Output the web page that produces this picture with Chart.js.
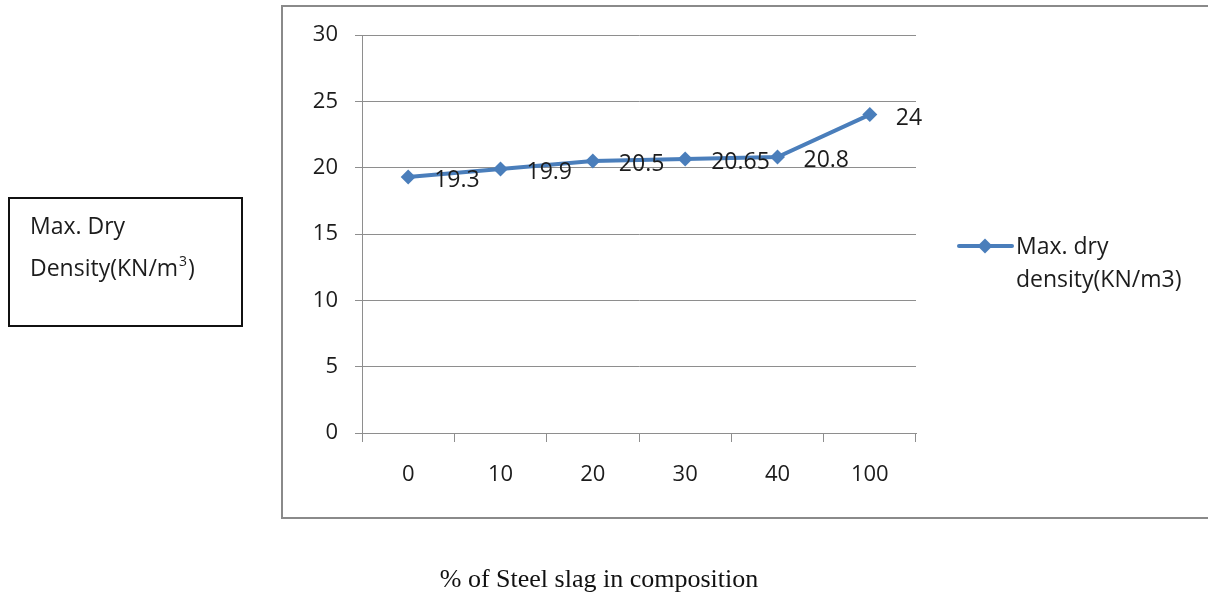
<!DOCTYPE html>
<html>
<head>
<meta charset="utf-8">
<script src="https://cdn.jsdelivr.net/npm/chart.js@4/dist/chart.umd.min.js"></script>
<style>
  html, body { margin: 0; padding: 0; background: #fff; }
  #wrap { position: relative; width: 1208px; height: 596px; }
</style>
</head>
<body>
<div id="wrap"><canvas id="c" width="1208" height="596"></canvas></div>
<script>
// Steel slag content (%) and measured maximum dry density
const slagPercent = ['0', '10', '20', '30', '40', '100'];
const maxDryDensity = [19.3, 19.9, 20.5, 20.65, 20.8, 24];
const seriesName = ['Max. dry', 'density(KN/m3)'];
const axisCaption = '% of Steel slag in composition';
const yTitleLines = ['Max. Dry', 'Density(KN/m', '3', ')'];

const BLUE = '#4a7ebb';
const GRID = '#8e8e8e';
const TEXT = '#1c1c1c';
const FONT = '"Open Sans", sans-serif';

// Frame, side title box, legend, caption and value labels
const decorations = {
  id: 'decorations',
  beforeDraw(chart) {
    const ctx = chart.ctx;
    ctx.save();
    ctx.fillStyle = '#fff';
    ctx.fillRect(0, 0, chart.width, chart.height);
    // chart frame
    ctx.strokeStyle = '#8a8a8a';
    ctx.lineWidth = 2;
    ctx.strokeRect(282, 6, 1000, 512);
    ctx.restore();
  },
  afterDatasetsDraw(chart) {
    const ctx = chart.ctx;
    ctx.save();
    // value labels right of each marker
    const meta = chart.getDatasetMeta(0);
    ctx.font = '23px ' + FONT;
    ctx.fillStyle = TEXT;
    ctx.textAlign = 'left';
    ctx.textBaseline = 'alphabetic';
    meta.data.forEach((pt, i) => {
      ctx.fillText(String(maxDryDensity[i]), pt.x + 26, pt.y + 10);
    });
    ctx.restore();
  },
  afterDraw(chart) {
    const ctx = chart.ctx;
    ctx.save();
    // legend
    const ly = 246;
    ctx.strokeStyle = BLUE;
    ctx.lineWidth = 4;
    ctx.lineCap = 'round';
    ctx.beginPath();
    ctx.moveTo(959, ly);
    ctx.lineTo(1012, ly);
    ctx.stroke();
    ctx.fillStyle = BLUE;
    ctx.beginPath();
    ctx.moveTo(985, ly - 7.5);
    ctx.lineTo(992.5, ly);
    ctx.lineTo(985, ly + 7.5);
    ctx.lineTo(977.5, ly);
    ctx.closePath();
    ctx.fill();
    ctx.fillStyle = TEXT;
    ctx.font = '23px ' + FONT;
    ctx.textAlign = 'left';
    ctx.textBaseline = 'alphabetic';
    ctx.fillText(seriesName[0], 1016, 254);
    ctx.fillText(seriesName[1], 1016, 287);

    // side title box
    ctx.strokeStyle = '#111';
    ctx.lineWidth = 2;
    ctx.strokeRect(9, 198, 233, 128);
    ctx.font = '23px ' + FONT;
    ctx.fillText(yTitleLines[0], 30, 234);
    ctx.fillText(yTitleLines[1], 30, 276);
    const w = ctx.measureText(yTitleLines[1]).width;
    ctx.font = '14px ' + FONT;
    ctx.fillText(yTitleLines[2], 30 + w + 1, 266);
    const w3 = ctx.measureText(yTitleLines[2]).width;
    ctx.font = '23px ' + FONT;
    ctx.fillText(yTitleLines[3], 30 + w + w3 + 2, 276);

    // bottom caption
    ctx.font = '26px "Liberation Serif", "Times New Roman", serif';
    ctx.fillStyle = '#111';
    ctx.textAlign = 'center';
    ctx.fillText(axisCaption, 599, 587);
    ctx.restore();
  }
};

new Chart(document.getElementById('c'), {
  type: 'line',
  data: {
    labels: slagPercent,
    datasets: [{
      label: seriesName.join(' '),
      data: maxDryDensity,
      borderColor: BLUE,
      backgroundColor: BLUE,
      borderWidth: 4,
      pointStyle: 'rectRot',
      pointRadius: 7.5,
      pointHoverRadius: 7.5,
      pointBorderWidth: 0,
      tension: 0
    }]
  },
  options: {
    responsive: false,
    animation: false,
    devicePixelRatio: 1,
    layout: { padding: { left: 302, right: 292, top: 35, bottom: 103 } },
    plugins: { legend: { display: false }, tooltip: { enabled: false } },
    scales: {
      x: {
        offset: true,
        afterFit(s) { s.height = 60; },
        grid: { offset: true, drawOnChartArea: false, drawTicks: true, tickLength: 9, color: GRID, lineWidth: 1 },
        border: { color: GRID, width: 1 },
        ticks: { color: TEXT, font: { family: FONT, size: 22 }, padding: 20, maxRotation: 0 }
      },
      y: {
        min: 0,
        max: 30,
        afterFit(s) { s.width = 60; },
        grid: { color: GRID, lineWidth: 1, tickLength: 7 },
        border: { color: GRID, width: 1 },
        ticks: { stepSize: 5, color: TEXT, font: { family: FONT, size: 22 }, padding: 17 }
      }
    }
  },
  plugins: [decorations]
});
</script>
</body>
</html>
